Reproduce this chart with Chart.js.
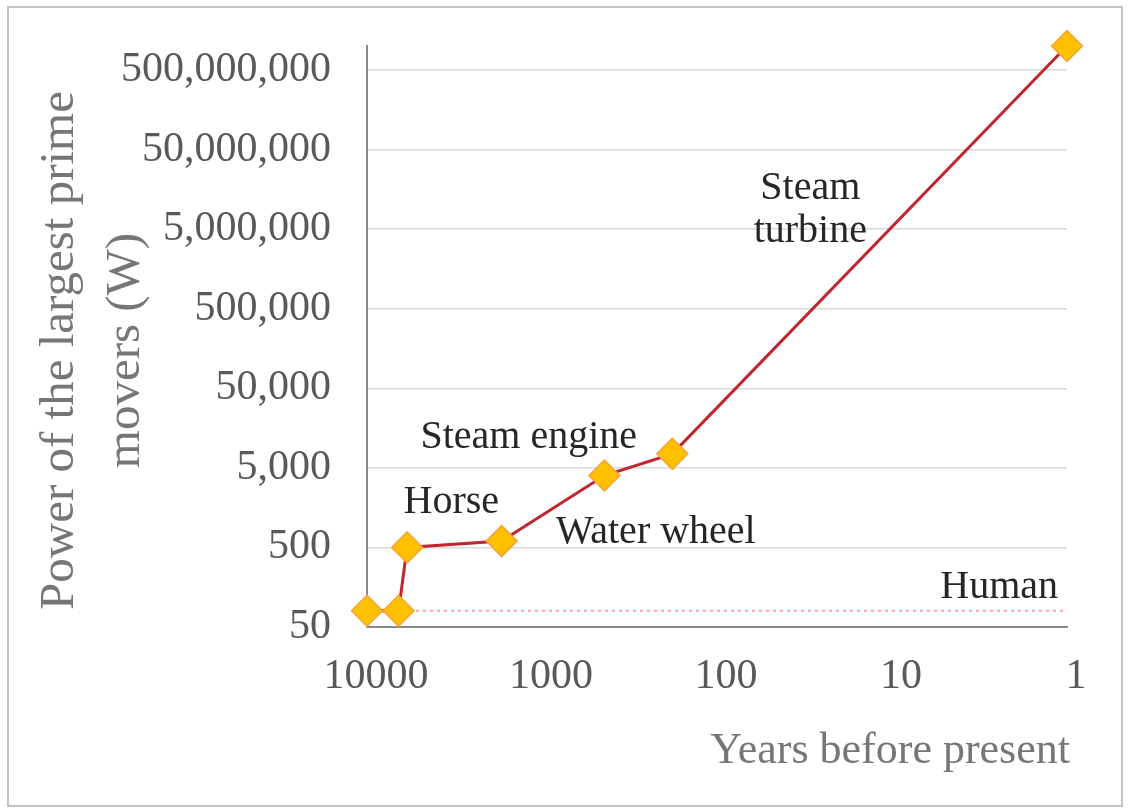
<!DOCTYPE html>
<html>
<head>
<meta charset="utf-8">
<script src="https://cdn.jsdelivr.net/npm/chart.js@4.4.1/dist/chart.umd.min.js"></script>
<style>
  html, body { margin: 0; padding: 0; background: #ffffff; }
  #wrap { position: relative; width: 1129px; height: 811px; }
  #frame { position: absolute; left: 7px; top: 6px; width: 1112px; height: 797px; border: 2px solid #c4c4c4; }
  #chart { position: absolute; left: 0; top: 0; }
</style>
</head>
<body>
<div id="wrap">
  <div id="frame"></div>
  <canvas id="chart" width="1129" height="811"></canvas>
</div>
<script>
// Largest prime movers: years before present vs. power (W)
const years = [10000, 6600, 5900, 1700, 440, 180, 1];
const power = [80, 80, 500, 600, 4000, 7500, 1000000000];

// Human power reference level
const humanYears = [10000, 1];
const humanPower = [80, 80];

// Axis ticks
const xTicks = [10000, 1000, 100, 10, 1];
const yTicks = [50, 500, 5000, 50000, 500000, 5000000, 50000000, 500000000];

// Text labels placed in data coordinates (years, watts)
const labelNames = [['Horse'], ['Steam engine'], ['Water wheel'], ['Steam', 'turbine'], ['Human']];
const labelYears = [3300, 1190, 224, 29.3, 2.44];
const labelPower = [1340, 9000, 563, 12100000, 115];

// Axis titles
const xTitle = 'Years before present';
const yTitle = ['Power of the largest prime', 'movers (W)'];

const SERIF = '"Liberation Serif", "Times New Roman", serif';

const textLabels = {
  id: 'textLabels',
  afterDraw(chart) {
    const { ctx, chartArea, scales: { x, y } } = chart;
    ctx.save();
    ctx.font = '40px ' + SERIF;
    ctx.fillStyle = '#262626';
    ctx.textAlign = 'center';
    ctx.textBaseline = 'alphabetic';
    labelNames.forEach((lines, i) => {
      const px = x.getPixelForValue(labelYears[i]);
      const py = y.getPixelForValue(labelPower[i]);
      lines.forEach((t, j) => ctx.fillText(t, px, py + j * 43));
    });

    // x-axis title, right-aligned under the plot
    ctx.font = '44px ' + SERIF;
    ctx.fillStyle = '#767676';
    ctx.textAlign = 'right';
    ctx.fillText(xTitle, chartArea.right + 3, chartArea.bottom + 136);

    // y-axis title, two rotated lines
    ctx.font = '49px ' + SERIF;
    ctx.textAlign = 'center';
    ctx.textBaseline = 'middle';
    ctx.translate(60, (chartArea.top + chartArea.bottom) / 2 + 14);
    ctx.rotate(-Math.PI / 2);
    yTitle.forEach((t, j) => ctx.fillText(t, 0, j * 66));
    ctx.restore();
  }
};

new Chart(document.getElementById('chart'), {
  type: 'line',
  data: {
    datasets: [
      {
        data: years.map((v, i) => ({ x: v, y: power[i] })),
        borderColor: '#c0262d',
        borderWidth: 3,
        pointStyle: 'rectRot',
        pointRadius: 15.5,
        pointHoverRadius: 15.5,
        pointBackgroundColor: '#ffc000',
        pointBorderColor: '#f5a23a',
        pointBorderWidth: 1.5,
        tension: 0,
        clip: false
      },
      {
        data: humanYears.map((v, i) => ({ x: v, y: humanPower[i] })),
        borderColor: '#f2a7a7',
        borderWidth: 2,
        borderDash: [3, 4],
        pointRadius: 0,
        tension: 0
      }
    ]
  },
  options: {
    responsive: false,
    animation: false,
    events: [],
    layout: { padding: { left: 0, right: 62, top: 46, bottom: 0 } },
    plugins: { legend: { display: false }, tooltip: { enabled: false } },
    scales: {
      x: {
        type: 'logarithmic',
        reverse: true,
        min: 1,
        max: 10000,
        afterBuildTicks(scale) { scale.ticks = xTicks.map(v => ({ value: v })); },
        afterFit(scale) {
          scale.height = 184;
          scale.paddingLeft = 0;
          scale.paddingRight = 0;
        },
        grid: { display: false, drawTicks: false },
        border: { display: true, color: '#8a8a8a', width: 2 },
        ticks: {
          autoSkip: false,
          maxRotation: 0,
          padding: 25,
          labelOffset: 9,
          color: '#595959',
          font: { family: SERIF, size: 42 },
          callback: (v) => String(v)
        }
      },
      y: {
        type: 'logarithmic',
        min: 50,
        max: 1000000000,
        afterBuildTicks(scale) { scale.ticks = yTicks.map(v => ({ value: v })); },
        afterFit(scale) {
          scale.width = 367;
          scale.paddingTop = 0;
          scale.paddingBottom = 0;
        },
        grid: { color: '#d9d9d9', lineWidth: 1.5, drawTicks: false },
        border: { display: true, color: '#8a8a8a', width: 2 },
        ticks: {
          padding: 36,
          color: '#595959',
          font: { family: SERIF, size: 42 },
          callback: (v) => Number(v).toLocaleString('en-US')
        }
      }
    }
  },
  plugins: [textLabels]
});
</script>
</body>
</html>
